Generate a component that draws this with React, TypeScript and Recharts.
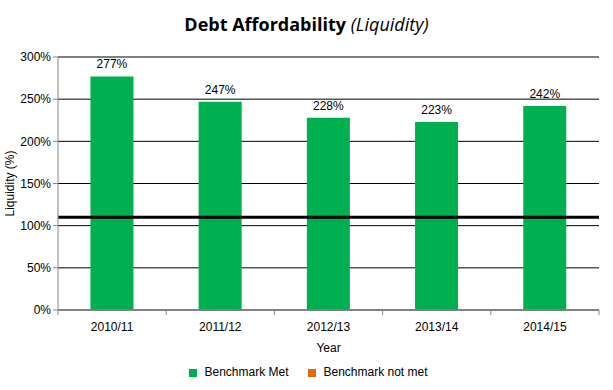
import React from 'react';
import { BarChart, Bar, XAxis, YAxis, CartesianGrid, Legend, ReferenceLine, LabelList } from 'recharts';

const years = ['2010/11', '2011/12', '2012/13', '2013/14', '2014/15'];
const benchmarkMet = [277, 247, 228, 223, 242];
const benchmarkNotMet = [null, null, null, null, null];
const yTicks = [0, 50, 100, 150, 200, 250, 300];
const benchmark = 110;

const GREEN = '#00B050';
const ORANGE = '#E36C09';
const FONT = '"Liberation Sans", Arial, sans-serif';

const data = years.map((year, i) => ({
  year,
  met: benchmarkMet[i],
  notMet: benchmarkNotMet[i],
}));

const PLOT_W = 541;
const BAND = PLOT_W / years.length;

// category label in the middle, tick mark on the band boundary
const XTick = ({ x, y, payload, index }: any) => (
  <g>
    <line x1={x - BAND / 2} y1={y - 8} x2={x - BAND / 2} y2={y - 3} stroke="#868686" />
    {index === years.length - 1 && (
      <line x1={x + BAND / 2} y1={y - 8} x2={x + BAND / 2} y2={y - 3} stroke="#868686" />
    )}
    <text x={x} y={y + 13} textAnchor="middle" fontSize={12} fill="#000" fontFamily={FONT}>
      {payload.value}
    </text>
  </g>
);

export default function App() {
  return (
    <div style={{ position: 'absolute', left: 0, top: 0, width: 613, height: 390, background: '#fff' }}>
      <div
        style={{
          position: 'absolute',
          top: 12,
          width: 613,
          textAlign: 'center',
          fontFamily: '"Open Sans", sans-serif',
          fontSize: 18,
          color: '#000',
        }}
      >
        <b>Debt Affordability</b> <i>(Liquidity)</i>
      </div>
      <BarChart
        width={613}
        height={390}
        data={data}
        margin={{ top: 57, right: 14, bottom: 10, left: 0 }}
        barCategoryGap="30%"
      >
        <CartesianGrid vertical={false} stroke="#000" />
        <XAxis
          dataKey="year"
          tickLine={false}
          axisLine={{ stroke: '#868686' }}
          tick={<XTick />}
          height={48}
          label={{ value: 'Year', position: 'insideBottom', offset: 6, fontSize: 12, fill: '#000', fontFamily: FONT }}
        />
        <YAxis
          domain={[0, 300]}
          ticks={yTicks}
          width={58}
          tickFormatter={(v: number) => `${v}%`}
          tick={{ fontSize: 12, fill: '#000', fontFamily: FONT }}
          tickLine={{ stroke: '#868686' }}
          tickSize={5}
          axisLine={{ stroke: '#868686' }}
          label={{
            value: 'Liquidity (%)',
            angle: -90,
            position: 'insideLeft',
            offset: 10,
            style: { textAnchor: 'middle', fontSize: 12, fill: '#000', fontFamily: FONT },
          }}
        />
        <Bar dataKey="met" stackId="a" fill={GREEN} name="Benchmark Met" isAnimationActive={false}>
          <LabelList
            dataKey="met"
            position="top"
            offset={8}
            formatter={(v: any) => `${v}%`}
            style={{ fontSize: 12, fill: '#000', fontFamily: FONT }}
          />
        </Bar>
        <Bar dataKey="notMet" stackId="a" fill={ORANGE} name="Benchmark not met" isAnimationActive={false} />
        <ReferenceLine y={benchmark} stroke="#000" strokeWidth={3} />
        <Legend
          iconType="square"
          iconSize={8}
          verticalAlign="bottom"
          height={22}
          wrapperStyle={{ fontSize: 12, fontFamily: FONT, color: '#000', bottom: 3, left: 19 }}
          formatter={(value: string) => (
            <span style={{ color: '#000', marginLeft: 3, marginRight: 10 }}>{value}</span>
          )}
        />
      </BarChart>
    </div>
  );
}
